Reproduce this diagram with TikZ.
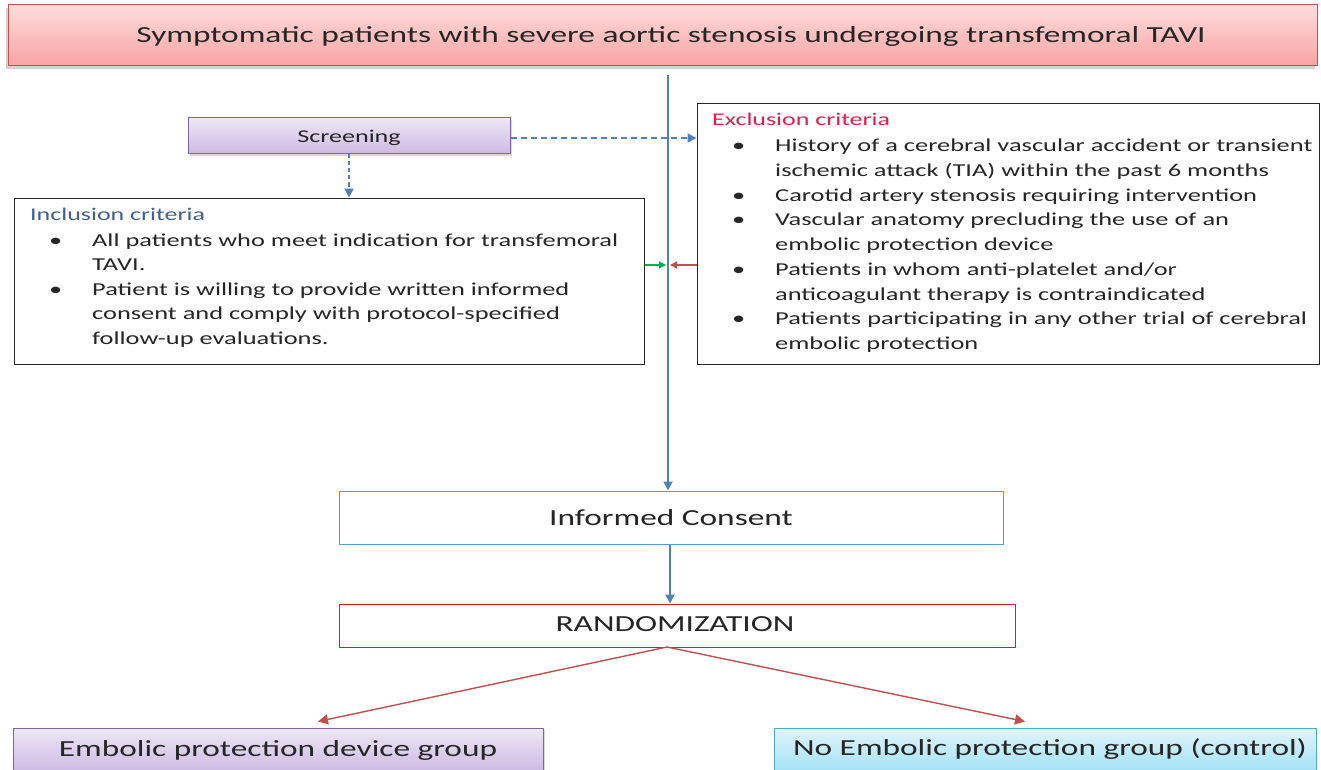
\documentclass[tikz,border=0pt]{standalone}
\usepackage{fontspec}
\setmainfont{Carlito}[FakeStretch=1.45]
\usetikzlibrary{arrows.meta,shadows}
\definecolor{txt}{HTML}{262626}
\definecolor{bl}{HTML}{4F81BD}
\definecolor{redl}{HTML}{C0504D}
\definecolor{redb}{HTML}{D02030}
\definecolor{icb}{HTML}{5B9BD5}
\definecolor{purb}{HTML}{8064A2}
\definecolor{purt}{HTML}{EEE7F6}
\definecolor{purbot}{HTML}{CDB9E3}
\definecolor{cyb}{HTML}{4BACC6}
\definecolor{cyt}{HTML}{E0F5FC}
\definecolor{cybot}{HTML}{A3E1F5}
\definecolor{pinkt}{HTML}{FFDCDC}
\definecolor{pinkb}{HTML}{F8A3A3}
\definecolor{inct}{HTML}{41608C}
\definecolor{exct}{HTML}{E0204A}
\definecolor{grn}{HTML}{00B050}
\begin{document}
\begin{tikzpicture}[x=1pt,y=-1pt,
  every node/.style={text=txt,inner sep=0pt},
  boxbase/.style={draw,rectangle,line width=1pt},
  titlebox/.style={boxbase,draw=redl,top color=pinkt,bottom color=pinkb,
     drop shadow={shadow xshift=-2pt,shadow yshift=-3pt,opacity=0.35}},
  purbox/.style={boxbase,draw=purb,top color=purt,bottom color=purbot,
     drop shadow={shadow xshift=2pt,shadow yshift=-2pt,opacity=0.3}},
  cybox/.style={boxbase,draw=cyb,top color=cyt,bottom color=cybot},
  critbox/.style={boxbase,draw=black!85,fill=white},
  arr/.style={-{Triangle[length=9pt,width=9pt]}},
  mainline/.style={arr,draw=bl,line width=1.8pt},
  dashline/.style={arr,draw=bl,line width=1.6pt,dash pattern=on 6pt off 4pt},
  redarrow/.style={-{Triangle[length=10pt,width=10pt]},draw=redl,line width=1.4pt},
]
\useasboundingbox (0,0) rectangle (1321,770);
\clip (0,0) rectangle (1321,770);

% top box
\node[titlebox,minimum width=1309pt,minimum height=61pt] (top) at (662.5,35.5) {};
\node[font=\fontsize{23}{26}\selectfont] (topt) at (671,36) {Symptomatic patients with severe aortic stenosis undergoing transfemoral TAVI};

% screening
\node[purbox,minimum width=322pt,minimum height=36pt] (scr) at (349,136) {};
\node[font=\fontsize{18}{20}\selectfont] (scrt) at (349,137.5) {Screening};

% inclusion
\node[critbox,minimum width=630pt,minimum height=166pt] (inc) at (329,281) {};
\node[anchor=base west,font=\fontsize{17.9}{20}\selectfont,text=inct] (inct) at (30,220) {Inclusion criteria};
\node[anchor=north west,font=\fontsize{18.2}{24.5}\selectfont] (incl) at (49,228.9) {%
\begin{tabular}{@{}p{43pt}@{}l@{}}
\textbullet & All patients who meet indication for transfemoral\\
 & TAVI.\\
\textbullet & Patient is willing to provide written informed\\
 & consent and comply with protocol-specified\\
 & follow-up evaluations.
\end{tabular}};

% exclusion
\node[critbox,minimum width=622pt,minimum height=260pt] (exc) at (1008,234) {};
\node[anchor=base west,font=\fontsize{17.9}{20}\selectfont,text=exct] (exctt) at (712,126) {Exclusion criteria};
\node[anchor=north west,font=\fontsize{18.2}{24.75}\selectfont] (excl) at (732,134.2) {%
\begin{tabular}{@{}p{43pt}@{}l@{}}
\textbullet & History of a cerebral vascular accident or transient\\
 & ischemic attack (TIA) within the past 6 months\\
\textbullet & Carotid artery stenosis requiring intervention\\
\textbullet & Vascular anatomy precluding the use of an\\
 & embolic protection device\\
\textbullet & Patients in whom anti-platelet and/or\\
 & anticoagulant therapy is contraindicated\\
\textbullet & Patients participating in any other trial of cerebral\\
 & embolic protection
\end{tabular}};

% informed consent & randomization
\node[boxbase,draw=icb,fill=white,minimum width=664pt,minimum height=53pt,font=\fontsize{23}{26}\selectfont] (ic) at (671,517.5) {Informed Consent};
\node[boxbase,draw=redb,fill=white,minimum width=676pt,minimum height=43pt] (rnd) at (677,625.5) {};
\node[font=\fontsize{23}{26}\selectfont] (rndt) at (675,624.5) {RANDOMIZATION};

% groups
\node[purbox,minimum width=530pt,minimum height=44pt,font=\fontsize{23}{26}\selectfont] (emb) at (278,750) {Embolic protection device group};
\node[cybox,minimum width=542pt,minimum height=44pt] (nemb) at (1045,750) {};
\node[font=\fontsize{23}{26}\selectfont] (nembt) at (1050,749) {No Embolic protection group (control)};

% connectors
\coordinate (vtop) at (668,75);
\draw[mainline] (vtop) -- (ic.north -| vtop);
\draw[dashline] ([yshift=-2pt]scr.east) -- ([yshift=-2pt]scr.east -| exc.west);
\draw[dashline,line width=2.4pt,dash pattern=on 4pt off 3pt] (scr.south) -- (scr.south |- inc.north);
\coordinate (gtip) at (666,265);
\coordinate (rtip) at (670,265);
\draw[-{Triangle[length=7pt,width=7pt]},draw=grn,line width=1.3pt] (inc.east |- gtip) -- (gtip);
\draw[-{Triangle[length=7pt,width=7pt]},draw=redl,line width=1.3pt] (exc.west |- rtip) -- (rtip);
\draw[mainline] ([xshift=-1pt]ic.south) -- ([xshift=-1pt]ic.south |- rnd.north);
\coordinate (rs) at (667,647);
\draw[redarrow] (rs) -- ([xshift=40pt,yshift=6pt]emb.north);
\draw[redarrow] (rs) -- ([xshift=-20pt,yshift=6pt]nemb.north);
\end{tikzpicture}
\end{document}
